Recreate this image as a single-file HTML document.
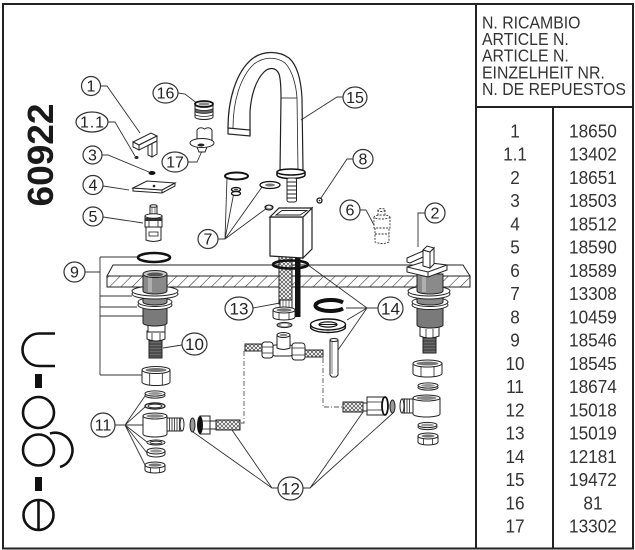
<!DOCTYPE html>
<html><head><meta charset="utf-8">
<style>
html,body{margin:0;padding:0;background:#fff;width:635px;height:550px;overflow:hidden}
svg{display:block}
text{font-family:"Liberation Sans",Arial,sans-serif}
</style></head><body>
<svg xmlns="http://www.w3.org/2000/svg" width="635" height="550" viewBox="0 0 635 550">
<defs>
<pattern id="hat" width="8" height="8" patternUnits="userSpaceOnUse" patternTransform="rotate(45)"><line x1="0" y1="0" x2="0" y2="8" stroke="#333" stroke-width="1.1"/></pattern>
<pattern id="brd" width="4" height="4" patternUnits="userSpaceOnUse"><rect width="4" height="4" fill="#fff"/><path d="M0,0 L4,4 M4,0 L0,4" stroke="#444" stroke-width="0.7"/></pattern>
</defs>
<rect x="0" y="0" width="635" height="550" fill="#fff"/>

<!-- countertop slab -->
<path d="M107,276 L113,265 L463,265 L470,276 Z" fill="#fff" stroke="#222" stroke-width="1"/>
<rect x="107" y="276" width="363" height="11" fill="url(#hat)" stroke="#222" stroke-width="1"/>

<!-- leader lines -->
<g fill="none" stroke="#333" stroke-width="0.9">
<path d="M100,86 L107,86 L140,133"/>
<path d="M108,122 L115,122 L135,156"/>
<path d="M102,155 L108,155 L149,172"/>
<path d="M103,186 L129,190"/>
<path d="M103,217 L143,223"/>
<path d="M178,93 L185,94 L198,104"/>
<path d="M188,162 L197,162 L202,151"/>
<path d="M343,97 L337,97 L301,120"/>
<path d="M353,159 L347,159 L321,198"/>
<path d="M360,210 L366,210 L374,225"/>
<path d="M425,213 L418,213 L418,247"/>
<path d="M218,239 L225,239 M225,239 L227,178 M225,239 L234,192 M225,239 L262,187 M225,239 L267,208"/>
<path d="M85,272 L100,272 M100,257 L100,375 M100,257 L137,257 M100,296 L132,296 M100,307 L137,307 M100,316 L143,316 M100,375 L142,375"/>
<path d="M182,345 L163,348"/>
<path d="M253,308 L280,303"/>
<path d="M378,308 L367,308 M367,308 L308,265 M367,308 L346,308 M367,308 L347,320 M367,308 L338,350"/>
<path d="M115,425 L125,425 M125,425 L145,396 M125,425 L145,407 M125,425 L143,425 M125,425 L147,442 M125,425 L147,453 M125,425 L146,467"/>
<path d="M278,488 L272,488 L193,432 M272,488 L232,430 M303,488 L310,488 L363,412 M310,488 L393,413"/>
</g>

<!-- dash-dot connection lines -->
<g fill="none" stroke="#555" stroke-width="0.9" stroke-dasharray="5,2,1,2">
<path d="M244,351 V423 H240"/>
<path d="M323,358 V407 H343"/>
</g>

<!-- SPOUT (15) -->
<g fill="none" stroke="#222" stroke-width="1.2">
<path d="M228,128 C228,100 236,72 252,59 C262,51 278,50 289,58 C297,65 301,80 302,98 L303,171"/>
<path d="M233,128 C233,102 240,77 254,64 C263,57 276,56 285,63 C292,70 296,84 297,98 L298,171" stroke-width="0.8"/>
<path d="M250,135 L250,112 C251,95 256,80 264,72 C269,67 276,67 279,74 C281,80 281,90 281,98 L280,172"/>
<path d="M281,98 L297,98" stroke-width="0.8"/>
<path d="M228,128 L250,130 L250,136 L228,134 Z" fill="#fff"/>
</g>
<path d="M277,172 L277,175 A14,3.5 0 0 0 305,175 L305,172" fill="#fff" stroke="#111" stroke-width="1.5"/>
<ellipse cx="291" cy="172" rx="14" ry="3" fill="#fff" stroke="#111" stroke-width="1.5"/>
<rect x="287" y="178" width="9.5" height="24" rx="2" fill="#fff" stroke="#222"/>
<path d="M287,182 H296.5 M287,186 H296.5 M287,190 H296.5 M287,194 H296.5 M287,198 H296.5" stroke="#222" stroke-width="0.9"/>

<!-- part 7 items -->
<ellipse cx="236.5" cy="176" rx="11.5" ry="3.5" fill="none" stroke="#111" stroke-width="2"/>
<ellipse cx="236" cy="193.5" rx="4.5" ry="2" fill="#fff" stroke="#111" stroke-width="1.2"/>
<ellipse cx="236" cy="189.5" rx="4.5" ry="2" fill="#fff" stroke="#111" stroke-width="1.3"/>
<ellipse cx="236" cy="189.5" rx="2" ry="0.9" fill="#444"/>
<ellipse cx="270" cy="185" rx="10" ry="3.5" fill="#fff" stroke="#111" stroke-width="1.3"/>
<ellipse cx="270" cy="185" rx="5" ry="1.5" fill="#777"/>
<ellipse cx="269" cy="207.5" rx="4" ry="2.5" fill="#999" stroke="#111" stroke-width="1.1"/>
<ellipse cx="269" cy="207" rx="2" ry="1" fill="#fff"/>

<!-- part 8 -->
<circle cx="319.5" cy="200.5" r="2.5" fill="#fff" stroke="#111" stroke-width="1.3"/>
<circle cx="319.5" cy="200.5" r="0.8" fill="#111"/>

<!-- part 6 (dashed) -->
<g fill="none" stroke="#333" stroke-width="0.9" stroke-dasharray="2,1.3">
<path d="M378,210 V216 M385,210 V216"/>
<ellipse cx="381.5" cy="210" rx="3.5" ry="1.5"/>
<path d="M374,217 V228 H390 V217"/>
<ellipse cx="382" cy="217" rx="8" ry="2"/>
<path d="M375,228 V242 Q382,245 389,242 V228"/>
<path d="M375,234 H389"/>
</g>

<!-- hose 13 + black pipe -->
<rect x="279" y="254" width="13" height="50" fill="url(#brd)" stroke="#222"/>
<rect x="280" y="300" width="12" height="8" fill="#fff" stroke="#222"/>
<path d="M283,300 V308 M286,300 V308 M289,300 V308" stroke="#222" stroke-width="0.6"/>
<rect x="295" y="254" width="5.5" height="63" fill="#111"/>
<!-- hose nut -->
<path d="M273,310 V317 A11,3 0 0 0 295,317 V310 Z" fill="#fff" stroke="#222"/>
<ellipse cx="284" cy="310" rx="11" ry="3" fill="#fff" stroke="#222"/>
<ellipse cx="284" cy="310" rx="7.5" ry="1.8" fill="#777"/>
<path d="M279,312.5 V319.5 M289,312.5 V319.5" stroke="#222" stroke-width="0.8"/>
<ellipse cx="284.5" cy="325" rx="7.5" ry="2.6" fill="#999" stroke="#222"/>
<ellipse cx="284.5" cy="325" rx="4" ry="1.2" fill="#fff"/>
<!-- O-ring 14 around hose -->
<ellipse cx="290.5" cy="264.5" rx="17.5" ry="4" fill="none" stroke="#111" stroke-width="2.6"/>

<!-- body cube -->
<path d="M270,217 L303,217 L303,258 L270,256 Z" fill="#fff" stroke="#222" stroke-width="1.2"/>
<path d="M303,217 L312,208 L312,249 L303,258 Z" fill="#fff" stroke="#222" stroke-width="1.2"/>
<path d="M270,217 L279,208 L312,208 L303,217 Z" fill="#fff" stroke="#222" stroke-width="1.2"/>
<path d="M276,215 L282,210.5 L307,210.5 L300,215 Z" fill="#fff" stroke="#222" stroke-width="0.9"/>

<!-- T fitting -->
<rect x="245" y="344" width="17" height="7" fill="url(#brd)" stroke="#222"/>
<rect x="305" y="350" width="18" height="7" fill="url(#brd)" stroke="#222"/>
<rect x="272" y="345" width="21" height="11" rx="3" fill="#fff" stroke="#222"/>
<path d="M277,335 V348 Q283.5,351 290,348 V335 Z" fill="#fff" stroke="#222"/>
<ellipse cx="283.5" cy="335" rx="6.5" ry="2.5" fill="#fff" stroke="#222"/>
<ellipse cx="283.5" cy="335" rx="4" ry="1.3" fill="#888"/>
<rect x="262" y="342" width="11" height="16" rx="3" fill="#fff" stroke="#222"/>
<path d="M262,347 H273 M262,353 H273" stroke="#222" stroke-width="0.8"/>
<rect x="292" y="343" width="13" height="17" rx="3" fill="#fff" stroke="#222"/>
<path d="M292,348 H305 M292,355 H305" stroke="#222" stroke-width="0.8"/>

<!-- part 14 items -->
<path d="M343,302.5 A15,5.5 0 1 0 343,308.5" fill="none" stroke="#111" stroke-width="4"/>
<ellipse cx="328" cy="327" rx="17.5" ry="5.5" fill="#fff" stroke="#111" stroke-width="1.4"/>
<ellipse cx="328" cy="324.5" rx="17.5" ry="5.5" fill="#fff" stroke="#111" stroke-width="1.4"/>
<ellipse cx="328" cy="324.5" rx="9" ry="2.6" fill="#fff" stroke="#111" stroke-width="1.2"/>
<path d="M319,324.5 H337" stroke="#111" stroke-width="1"/>
<path d="M330,340 V375 L332,377 H336 L338,375 V340" fill="#fff" stroke="#222"/>
<ellipse cx="334" cy="340" rx="4" ry="1.5" fill="#fff" stroke="#222"/>
<path d="M332,342 V374" stroke="#222" stroke-width="0.6"/>

<!-- LEFT VALVE (9/10) -->
<rect x="149" y="338" width="13" height="20" fill="#6a6a6a" stroke="#222"/>
<path d="M149,341 H162 M149,344 H162 M149,347 H162 M149,350 H162 M149,353 H162 M149,356 H162" stroke="#222" stroke-width="0.8"/>
<path d="M147,331 L147,339 Q156,343 165,339 L165,331 Z" fill="#fff" stroke="#222"/>
<path d="M152,333 V341 M160,333 V341" stroke="#222" stroke-width="0.8"/>
<rect x="148" y="324" width="17" height="8" fill="#fff" stroke="#222"/>
<path d="M143,303 L143,323 A12,3 0 0 0 167,323 L167,303 Z" fill="#7a7a7a" stroke="#222"/>
<ellipse cx="155" cy="305" rx="17" ry="4.5" fill="#fff" stroke="#222"/>
<ellipse cx="155" cy="302" rx="17" ry="4.5" fill="#fff" stroke="#222"/>
<path d="M143,292 L143,302 A12,3 0 0 0 167,302 L167,292 Z" fill="#8a8a8a" stroke="#222"/>
<ellipse cx="155" cy="294" rx="23" ry="5" fill="#fff" stroke="#222"/>
<ellipse cx="155" cy="291" rx="23" ry="5" fill="#fff" stroke="#222"/>
<path d="M143,274 L143,291 A12,3 0 0 0 167,291 L167,274 Z" fill="#8a8a8a" stroke="#222"/>
<rect x="148" y="276" width="4" height="16" fill="#b0b0b0"/>
<ellipse cx="155" cy="274" rx="12" ry="3.5" fill="#c8c8c8" stroke="#222"/>
<ellipse cx="155" cy="274.5" rx="8" ry="2" fill="#555"/>
<ellipse cx="154" cy="257.5" rx="16" ry="4.5" fill="none" stroke="#111" stroke-width="2.6"/>

<!-- left lower stack (11) -->
<path d="M142,370 V382 A14,3.5 0 0 0 170,382 V370 Z" fill="#fff" stroke="#222"/>
<ellipse cx="156" cy="370" rx="14" ry="3.5" fill="#fff" stroke="#222"/>
<ellipse cx="156" cy="370" rx="10.5" ry="2" fill="#777"/>
<path d="M149.7,373 V385 M162.3,373 V385" stroke="#222" stroke-width="0.8"/>
<ellipse cx="155" cy="395.5" rx="10" ry="2.6" fill="#fff" stroke="#222"/>
<ellipse cx="155" cy="393.5" rx="10" ry="2.6" fill="#fff" stroke="#222"/>
<ellipse cx="155" cy="393.5" rx="7" ry="1.5" fill="#999"/>
<ellipse cx="155" cy="406" rx="10" ry="3" fill="none" stroke="#222" stroke-width="1.4"/>
<ellipse cx="155" cy="406" rx="7" ry="1.8" fill="none" stroke="#222" stroke-width="0.9"/>
<rect x="167" y="418" width="15" height="13" fill="#fff" stroke="#222"/>
<path d="M169.5,418 V431 M172,418 V431 M174.5,418 V431 M177,418 V431 M179.5,418 V431" stroke="#222" stroke-width="0.8"/>
<ellipse cx="182" cy="424.5" rx="2" ry="6.5" fill="#fff" stroke="#222"/>
<path d="M143,416 V434 A12,3 0 0 0 167,434 V416 Z" fill="#fff" stroke="#222"/>
<ellipse cx="155" cy="416" rx="12" ry="3" fill="#fff" stroke="#222"/>
<ellipse cx="155" cy="416" rx="8.5" ry="1.8" fill="#888"/>
<ellipse cx="156" cy="442.5" rx="9" ry="2.5" fill="#fff" stroke="#222"/>
<ellipse cx="156" cy="442.5" rx="6" ry="1.3" fill="none" stroke="#222" stroke-width="0.8"/>
<path d="M147,451 V454 A9,3 0 0 0 165,454 V451" fill="#fff" stroke="#222"/>
<ellipse cx="156" cy="451" rx="9" ry="3" fill="#fff" stroke="#222"/>
<ellipse cx="156" cy="451" rx="6" ry="1.6" fill="#999"/>
<path d="M145,465 V470 A10,3 0 0 0 165,470 V465 Z" fill="#fff" stroke="#222"/>
<ellipse cx="155" cy="465" rx="10" ry="3" fill="#fff" stroke="#222"/>
<ellipse cx="155" cy="465" rx="6.5" ry="1.6" fill="#777"/>
<path d="M150.5,467.5 V472.5 M159.5,467.5 V472.5" stroke="#222" stroke-width="0.8"/>

<!-- hoses 12 -->
<ellipse cx="192.5" cy="425" rx="2.5" ry="7" fill="#999" stroke="#222"/>
<rect x="210" y="421" width="6" height="8" fill="#fff" stroke="#222"/>
<rect x="216" y="420" width="24" height="10" fill="url(#brd)" stroke="#222"/>
<rect x="200" y="416" width="10" height="18" fill="#fff" stroke="#222"/>
<path d="M201,421 H210 M201,429 H210" stroke="#222" stroke-width="0.8"/>
<ellipse cx="200" cy="425" rx="3" ry="9" fill="#111"/>
<rect x="343" y="402" width="20" height="10" fill="url(#brd)" stroke="#222"/>
<rect x="363" y="403" width="4" height="8" fill="#fff" stroke="#222"/>
<rect x="367" y="397" width="18" height="18" fill="#fff" stroke="#222"/>
<path d="M367,402 H385 M367,410 H385" stroke="#222" stroke-width="0.8"/>
<ellipse cx="385" cy="406" rx="3" ry="9" fill="#fff" stroke="#111" stroke-width="1.8"/>
<ellipse cx="392.5" cy="406.5" rx="2.5" ry="6.5" fill="#999" stroke="#222"/>

<!-- RIGHT VALVE (2) -->
<rect x="423" y="335" width="13" height="18" fill="#6a6a6a" stroke="#222"/>
<path d="M423,338 H436 M423,341 H436 M423,344 H436 M423,347 H436 M423,350 H436" stroke="#222" stroke-width="0.8"/>
<path d="M420,327 L420,336 Q429.5,340 439,336 L439,327 Z" fill="#fff" stroke="#222"/>
<path d="M426,329 V338 M433,329 V338" stroke="#222" stroke-width="0.8"/>
<path d="M417,304 L417,325 A13,3 0 0 0 443,325 L443,304 Z" fill="#7a7a7a" stroke="#222"/>
<ellipse cx="430" cy="305" rx="18" ry="4.5" fill="#fff" stroke="#222"/>
<ellipse cx="430" cy="302" rx="18" ry="4.5" fill="#fff" stroke="#222"/>
<path d="M417,292 L417,302 A13,3 0 0 0 443,302 L443,292 Z" fill="#8a8a8a" stroke="#222"/>
<ellipse cx="429" cy="294" rx="21" ry="5" fill="#fff" stroke="#222"/>
<ellipse cx="429" cy="291" rx="21" ry="5" fill="#fff" stroke="#222"/>
<path d="M417,274 L417,291 A13,3 0 0 0 443,291 L443,274 Z" fill="#8a8a8a" stroke="#222"/>
<rect x="422" y="277" width="4" height="15" fill="#b0b0b0"/>
<!-- handle 2 -->
<path d="M407,267 L423,262 L447,265 L447,270 L428,277 L407,272 Z" fill="#fff" stroke="#222"/>
<path d="M407,267 L428,272 L447,265 M428,272 V277" fill="none" stroke="#222"/>
<path d="M423,250 L430,252 L430,268 L423,266 Z" fill="#fff" stroke="#222"/>
<path d="M430,252 L434,248 L434,264 L430,268 Z" fill="#fff" stroke="#222"/>
<path d="M423,250 L427,246 L434,248 L430,252 Z" fill="#fff" stroke="#222"/>
<path d="M407,258 L423,251 L423,257 L410,263 L407,262 Z" fill="#fff" stroke="#222"/>

<!-- right lower stack -->
<path d="M413,363.5 V373.5 A14.5,3.5 0 0 0 442,373.5 V363.5 Z" fill="#fff" stroke="#222"/>
<ellipse cx="427.5" cy="363.5" rx="14.5" ry="3.5" fill="#fff" stroke="#222"/>
<ellipse cx="427.5" cy="363.5" rx="11" ry="2" fill="#777"/>
<path d="M421,366 V376.5 M434,366 V376.5" stroke="#222" stroke-width="0.8"/>
<ellipse cx="428" cy="387.5" rx="10" ry="2.6" fill="#fff" stroke="#222"/>
<ellipse cx="428" cy="385.5" rx="10" ry="2.6" fill="#fff" stroke="#222"/>
<ellipse cx="428" cy="385.5" rx="7" ry="1.5" fill="#999"/>
<rect x="402" y="399" width="11" height="14" fill="#fff" stroke="#222"/>
<path d="M404.5,399 V413 M407,399 V413 M409.5,399 V413" stroke="#222" stroke-width="0.8"/>
<ellipse cx="402" cy="406" rx="2" ry="7" fill="#fff" stroke="#222"/>
<path d="M413,398 V414 A13.5,3 0 0 0 440,414 V398 Z" fill="#fff" stroke="#222"/>
<ellipse cx="426.5" cy="398" rx="13.5" ry="3" fill="#fff" stroke="#222"/>
<ellipse cx="426.5" cy="398" rx="10" ry="2" fill="#888"/>
<ellipse cx="427.5" cy="427" rx="9.5" ry="2.6" fill="#fff" stroke="#222"/>
<ellipse cx="427.5" cy="425" rx="9.5" ry="2.6" fill="#fff" stroke="#222"/>
<ellipse cx="427.5" cy="425" rx="6.5" ry="1.4" fill="#999"/>
<path d="M418,436 V442 A10,3 0 0 0 438,442 V436 Z" fill="#fff" stroke="#222"/>
<ellipse cx="428" cy="436" rx="10" ry="3" fill="#fff" stroke="#222"/>
<ellipse cx="428" cy="436" rx="6.5" ry="1.6" fill="#777"/>
<path d="M423.5,438.5 V444.5 M432.5,438.5 V444.5" stroke="#222" stroke-width="0.8"/>

<!-- part 1 handle -->
<path d="M133,142 L151,133 L157,136 L139,145 Z" fill="#fff" stroke="#222"/>
<path d="M133,142 L139,145 L139,150 L133,147 Z" fill="#fff" stroke="#222"/>
<path d="M139,145 L157,136 L157,141 L139,150 Z" fill="#fff" stroke="#222"/>
<path d="M152,143.5 L157,141 L157,154 L152,157 Z" fill="#fff" stroke="#222"/>
<path d="M148,145.5 L152,143.5 L152,157 L148,155 Z" fill="#fff" stroke="#222"/>
<!-- 1.1 screw -->
<ellipse cx="136.5" cy="157.5" rx="2" ry="1.5" fill="#222"/>
<!-- 3 -->
<ellipse cx="152" cy="173" rx="3.5" ry="2" fill="#111"/>
<!-- 4 plate -->
<path d="M133,188 L162,190 L175,183 L175,186 L162,193 L133,191 Z" fill="#fff" stroke="#222"/>
<path d="M133,188 L147,181 L175,183 L162,190 Z" fill="#fff" stroke="#222"/>
<path d="M162,190 V193" stroke="#222"/>
<circle cx="154" cy="186" r="1.3" fill="#222"/>
<!-- 5 cartridge -->
<rect x="150" y="206" width="7" height="10" fill="#fff" stroke="#222"/>
<ellipse cx="153.5" cy="206" rx="3.5" ry="1.3" fill="#fff" stroke="#222"/>
<path d="M152,207 V215 M155,207 V215" stroke="#222" stroke-width="0.6"/>
<path d="M145,216 V227 H162 V216 Z" fill="#fff" stroke="#222"/>
<rect x="145" y="218" width="17" height="3" fill="#333"/>
<ellipse cx="153.5" cy="216" rx="8.5" ry="2.2" fill="#fff" stroke="#222"/>
<path d="M149,221 V227 M158,221 V227" stroke="#222" stroke-width="0.8"/>
<path d="M146,227 V240 Q153.5,243 161,240 V227 Z" fill="#fff" stroke="#222"/>
<rect x="149" y="232" width="9" height="4" fill="#fff" stroke="#222" stroke-width="0.8"/>

<!-- 16 aerator -->
<path d="M195,104 V117 A9,2.5 0 0 0 213,117 V104 Z" fill="#fff" stroke="#222"/>
<path d="M195,108 A9,2.5 0 0 0 213,108 L213,111 A9,2.5 0 0 1 195,111 Z" fill="#666" stroke="#222" stroke-width="0.8"/>
<path d="M195,114 A9,2.5 0 0 0 213,114" fill="none" stroke="#222" stroke-width="0.8"/>
<ellipse cx="204" cy="104" rx="9" ry="3" fill="#fff" stroke="#111" stroke-width="1.8"/>
<ellipse cx="204" cy="104" rx="5.5" ry="1.6" fill="#888"/>
<!-- 17 regulator -->
<path d="M197,130 V140 H212 V130" fill="#fff" stroke="#222"/>
<path d="M197,130 Q200,126 204.5,129 Q209,126 212,130" fill="#fff" stroke="#222"/>
<path d="M197,147 L199,152 H205 L207,147" fill="#fff" stroke="#222"/>
<ellipse cx="202" cy="143" rx="12" ry="4.5" fill="#fff" stroke="#222"/>
<ellipse cx="201" cy="145" rx="3.5" ry="1.5" fill="#222"/>

<!-- callouts -->
<g fill="#fff" stroke="#333" stroke-width="1.2">
<ellipse cx="91" cy="86" rx="9.5" ry="9.5"/>
<ellipse cx="92" cy="122" rx="16" ry="10"/>
<ellipse cx="92.5" cy="155" rx="9.5" ry="9"/>
<ellipse cx="93" cy="185" rx="10" ry="9.5"/>
<ellipse cx="93" cy="216.5" rx="10" ry="9.5"/>
<ellipse cx="165.5" cy="93" rx="12.5" ry="10"/>
<ellipse cx="175" cy="162" rx="13" ry="10"/>
<ellipse cx="208" cy="239" rx="10" ry="9.5"/>
<ellipse cx="355" cy="97.5" rx="12" ry="10.5"/>
<ellipse cx="363" cy="159" rx="10" ry="9.5"/>
<ellipse cx="350" cy="210" rx="10" ry="10"/>
<ellipse cx="435" cy="213" rx="10" ry="10"/>
<ellipse cx="74.5" cy="272" rx="10.5" ry="10"/>
<ellipse cx="239" cy="308.5" rx="14" ry="11.5"/>
<ellipse cx="194.5" cy="344" rx="12.5" ry="11"/>
<ellipse cx="390.5" cy="308.5" rx="12.5" ry="11.5"/>
<ellipse cx="103" cy="425" rx="12" ry="12"/>
<ellipse cx="290.5" cy="488.5" rx="12.5" ry="11.5"/>
</g>
<g font-size="16" fill="#222" text-anchor="middle">
<text x="91" y="91.7">1</text>
<text x="92" y="127.7" textLength="24" lengthAdjust="spacing">1.1</text>
<text x="92.5" y="160.7">3</text>
<text x="93" y="190.7">4</text>
<text x="93" y="222.2">5</text>
<text x="165.5" y="98.7">16</text>
<text x="175" y="167.7">17</text>
<text x="208" y="244.7">7</text>
<text x="355" y="103.2">15</text>
<text x="363" y="164.7">8</text>
<text x="350" y="215.7">6</text>
<text x="435" y="218.7">2</text>
<text x="74.5" y="277.7">9</text>
<text x="239" y="314.5" font-size="17">13</text>
<text x="194.5" y="350" font-size="17">10</text>
<text x="390.5" y="314.5" font-size="17">14</text>
<text x="103" y="430.7">11</text>
<text x="290.5" y="494.5" font-size="17">12</text>
</g>

<!-- 60922 -->
<text transform="translate(53,155) rotate(-90)" font-size="36" font-weight="bold" fill="#1a1a1a" text-anchor="middle" textLength="103" lengthAdjust="spacingAndGlyphs">60922</text>

<!-- e-go-n logo -->
<g fill="none" stroke="#111" stroke-width="2.6">
<path d="M55,333.5 H39 A16.5,16.25 0 0 0 39,366 H55"/>
<circle cx="38.5" cy="412.5" r="15.5"/>
<circle cx="38.5" cy="450" r="15.5"/>
<path d="M50,433.5 A17,17 0 1 1 60,467"/>
<circle cx="38.5" cy="515" r="15"/>
<path d="M38.5,500 V530"/>
</g>
<rect x="35" y="374" width="7" height="14" fill="#111"/>
<rect x="35" y="477" width="7" height="14" fill="#111"/>

<!-- frame & table -->
<g stroke="#222" stroke-width="2" fill="none">
<rect x="3" y="4" width="630" height="544.5"/>
<line x1="476" y1="4" x2="476" y2="548.5"/>
<line x1="476" y1="107" x2="633" y2="107"/>
<line x1="553" y1="107" x2="553" y2="548.5"/>
</g>
<g transform="translate(482,0) scale(0.88,1)" font-size="18" fill="#333">
<text x="0" y="28.3">N. RICAMBIO</text>
<text x="0" y="45">ARTICLE N.</text>
<text x="0" y="61.7">ARTICLE N.</text>
<text x="0" y="78.3">EINZELHEIT NR.</text>
<text x="0" y="95">N. DE REPUESTOS</text>
</g>
<g transform="scale(0.93,1)" font-size="18.5" fill="#333" text-anchor="middle">
<text x="553.8" y="137.3">1</text><text x="637.6" y="137.3">18650</text>
<text x="553.8" y="160.55">1.1</text><text x="637.6" y="160.55">13402</text>
<text x="553.8" y="183.8">2</text><text x="637.6" y="183.8">18651</text>
<text x="553.8" y="207.05">3</text><text x="637.6" y="207.05">18503</text>
<text x="553.8" y="230.3">4</text><text x="637.6" y="230.3">18512</text>
<text x="553.8" y="253.55">5</text><text x="637.6" y="253.55">18590</text>
<text x="553.8" y="276.8">6</text><text x="637.6" y="276.8">18589</text>
<text x="553.8" y="300.05">7</text><text x="637.6" y="300.05">13308</text>
<text x="553.8" y="323.3">8</text><text x="637.6" y="323.3">10459</text>
<text x="553.8" y="346.55">9</text><text x="637.6" y="346.55">18546</text>
<text x="553.8" y="369.8">10</text><text x="637.6" y="369.8">18545</text>
<text x="553.8" y="393.05">11</text><text x="637.6" y="393.05">18674</text>
<text x="553.8" y="416.3">12</text><text x="637.6" y="416.3">15018</text>
<text x="553.8" y="439.55">13</text><text x="637.6" y="439.55">15019</text>
<text x="553.8" y="462.8">14</text><text x="637.6" y="462.8">12181</text>
<text x="553.8" y="486.05">15</text><text x="637.6" y="486.05">19472</text>
<text x="553.8" y="509.3">16</text><text x="637.6" y="509.3">81</text>
<text x="553.8" y="532.55">17</text><text x="637.6" y="532.55">13302</text>
</g>
</svg>
</body></html>
